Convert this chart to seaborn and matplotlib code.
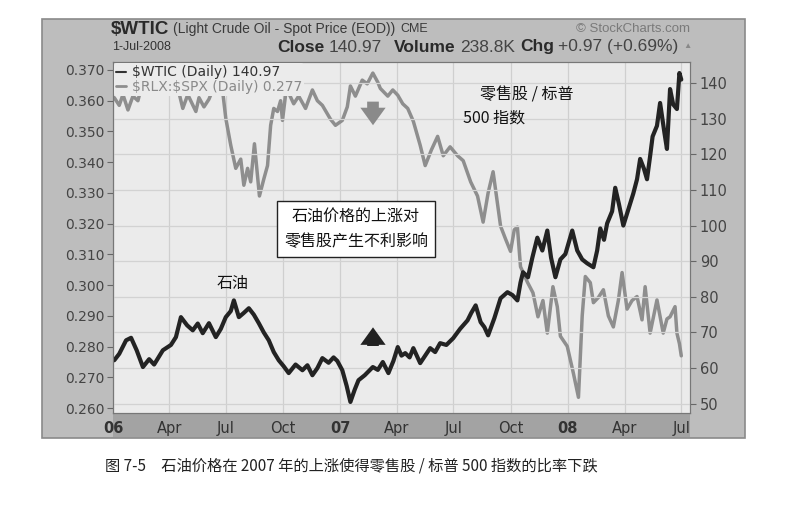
import matplotlib
matplotlib.use("Agg")
import matplotlib.pyplot as plt
from matplotlib.lines import Line2D
from matplotlib.patches import Rectangle
import pandas as pd
import seaborn as sns

# day offsets from 2006-01-01 and values
oil_days = [2, 10, 21, 29, 38, 48, 58, 66, 80, 93, 101, 109, 119, 128, 136, 144, 154, 165, 173, 181,
            189, 194, 202, 210, 218, 226, 234, 242, 250, 258, 266, 274, 282, 293, 304, 312, 320, 328,
            336, 346, 354, 360, 368, 375, 381, 388, 394, 404, 417, 425, 433, 442, 450, 457, 463, 469,
            476, 482, 493, 501, 509, 517, 525, 535, 546, 557, 569, 575, 582, 590, 596, 602, 612, 622,
            633, 641, 649, 654, 658, 666, 673, 681, 689, 697, 703, 710, 718, 726, 737, 745, 753, 761,
            771, 777, 782, 788, 793, 801, 806, 812, 819, 827, 835, 841, 846, 852, 857, 862, 866, 873,
            878, 885, 889, 894, 899, 905, 909, 912]
oil_price = [62.2, 64.0, 67.8, 68.5, 65.0, 60.3, 62.5, 61.0, 65.0, 66.5, 68.7, 74.3, 72.0, 70.6, 72.5,
             69.8, 72.6, 68.7, 71.0, 74.3, 76.0, 79.0, 74.3, 75.5, 76.8, 75.0, 72.6, 70.0, 67.8, 64.5,
             62.2, 60.5, 58.6, 61.0, 59.4, 60.8, 58.0, 60.0, 62.8, 61.5, 63.0, 62.0, 59.4, 55.0, 50.5,
             54.0, 56.6, 58.0, 60.3, 59.5, 61.7, 58.6, 62.0, 65.9, 63.5, 64.2, 63.0, 65.6, 61.4, 63.5,
             65.6, 64.5, 67.0, 66.5, 68.4, 71.0, 73.4, 75.5, 77.6, 72.9, 71.5, 69.2, 74.0, 79.6, 81.3,
             80.5, 79.0, 84.0, 86.9, 85.5, 91.0, 96.6, 93.0, 98.6, 91.0, 85.5, 90.5, 92.0, 98.6, 93.0,
             90.5, 89.4, 88.3, 93.0, 99.2, 96.0, 100.6, 104.0, 110.6, 106.0, 100.0, 104.5, 109.0, 113.0,
             118.7, 116.0, 113.0, 119.5, 125.0, 128.0, 134.4, 126.0, 121.5, 138.3, 134.0, 132.7, 142.8,
             140.97]

ratio_days = [2, 10, 16, 24, 32, 40, 48, 61, 77, 93, 106, 112, 120, 133, 138, 146, 154, 165, 176, 181,
              189, 197, 205, 210, 216, 221, 227, 235, 242, 248, 253, 258, 264, 269, 272, 277, 282, 290,
              298, 309, 320, 328, 336, 349, 357, 368, 376, 381, 389, 400, 408, 417, 425, 429, 441, 449,
              457, 465, 473, 482, 493, 501, 511, 521, 530, 541, 553, 562, 574, 585, 594, 602, 610, 622,
              630, 638, 644, 649, 654, 665, 674, 682, 690, 697, 706, 713, 718, 729, 739, 747, 753, 758,
              766, 771, 779, 787, 795, 803, 811, 817, 825, 833, 841, 849, 854, 862, 873, 883, 889, 894,
              902, 905, 909, 912]
ratio_val = [0.361, 0.3585, 0.362, 0.357, 0.3615, 0.360, 0.3665, 0.367, 0.366, 0.368, 0.3625, 0.3575,
             0.362, 0.3565, 0.361, 0.358, 0.3605, 0.366, 0.363, 0.3543, 0.3455, 0.338, 0.341, 0.3325,
             0.338, 0.3336, 0.346, 0.329, 0.3345, 0.3389, 0.352, 0.3575, 0.3565, 0.360, 0.3536, 0.362,
             0.3625, 0.359, 0.3615, 0.3575, 0.3635, 0.360, 0.3585, 0.354, 0.352, 0.3536, 0.358, 0.3648,
             0.3615, 0.3667, 0.3655, 0.369, 0.366, 0.364, 0.3615, 0.3635, 0.3618, 0.359, 0.3575, 0.3533,
             0.3455, 0.3389, 0.344, 0.3484, 0.3421, 0.345, 0.3421, 0.3405, 0.3336, 0.329, 0.3205, 0.330,
             0.3369, 0.3192, 0.315, 0.311, 0.318, 0.3189, 0.306, 0.301, 0.2975, 0.2897, 0.295, 0.2844,
             0.2995, 0.293, 0.2834, 0.2801, 0.2712, 0.2635, 0.290, 0.3028, 0.3008, 0.2943, 0.296, 0.2985,
             0.290, 0.2864, 0.295, 0.3041, 0.2922, 0.295, 0.2963, 0.2887, 0.2995, 0.2844, 0.2952, 0.2844,
             0.289, 0.2897, 0.293, 0.2844, 0.281, 0.277]

left_ticks = [0.260, 0.270, 0.280, 0.290, 0.300, 0.310, 0.320, 0.330, 0.340, 0.350, 0.360, 0.370]
right_ticks = [50, 60, 70, 80, 90, 100, 110, 120, 130, 140]
month_ticks = ["2006-01-01", "2006-04-01", "2006-07-01", "2006-10-01", "2007-01-01", "2007-04-01",
               "2007-07-01", "2007-10-01", "2008-01-01", "2008-04-01", "2008-07-01"]
month_labels = ["06", "Apr", "Jul", "Oct", "07", "Apr", "Jul", "Oct", "08", "Apr", "Jul"]

start = pd.Timestamp("2006-01-01")
oil = pd.DataFrame({"date": start + pd.to_timedelta(oil_days, unit="D"), "price": oil_price})
ratio = pd.DataFrame({"date": start + pd.to_timedelta(ratio_days, unit="D"), "ratio": ratio_val})

sns.set_style("white")
plt.rcParams["font.family"] = ["DejaVu Sans", "Noto Sans CJK SC"]
cjk = ["Noto Sans CJK SC", "DejaVu Sans"]

W, H = 804, 507
fig = plt.figure(figsize=(W / 100, H / 100), dpi=100)
fig.patch.set_facecolor("white")

def fx(px):
    return px / W

def fy(py):
    return 1 - py / H

# chart frame
fig.patches.append(Rectangle((fx(42), fy(438)), fx(745) - fx(42), fy(19) - fy(438),
                             transform=fig.transFigure, facecolor="#bdbdbd", edgecolor="#8a8a8a",
                             lw=1.2, zorder=-2))
fig.patches.append(Rectangle((fx(113), fy(437)), fx(690) - fx(113), fy(413) - fy(437),
                             transform=fig.transFigure, facecolor="#a3a3a3", edgecolor="none", zorder=-1))

ax = fig.add_axes([fx(113), fy(413), fx(690) - fx(113), fy(62) - fy(413)])
ax.set_facecolor("#ebebeb")
sns.lineplot(data=ratio, x="date", y="ratio", ax=ax, color="#8e8e8e", lw=2.5)
ax.set_ylim(0.2584, 0.3726)
ax.set_xlim(start + pd.Timedelta(days=1), start + pd.Timedelta(days=926))
ax.set_yticks(left_ticks)
ax.set_yticklabels([f"{v:.3f}" for v in left_ticks])
ax.set_xticks(pd.to_datetime(month_ticks))
ax.set_xticklabels(month_labels)
for lab in ax.get_xticklabels():
    if lab.get_text() in ("06", "07", "08"):
        lab.set_fontweight("bold")
ax.tick_params(axis="y", length=4, color="#666", labelcolor="#444", labelsize=10, pad=2)
ax.tick_params(axis="x", length=0, labelcolor="#333", labelsize=10.5, pad=6)
ax.grid(axis="x", color="#cfcfcf", lw=0.9)
ax.set_xlabel("")
ax.set_ylabel("")
for s in ax.spines.values():
    s.set_color("#777")

ax2 = ax.twinx()
sns.lineplot(data=oil, x="date", y="price", ax=ax2, color="#232323", lw=3.0)
ax2.set_ylim(47.4, 145.9)
ax2.set_yticks(right_ticks)
ax2.tick_params(axis="y", length=4, color="#666", labelcolor="#444", labelsize=10.5, pad=3)
ax2.grid(axis="y", color="#d2d2d2", lw=0.9)
ax2.set_axisbelow(True)
ax2.set_ylabel("")
for s in ax2.spines.values():
    s.set_color("#777")

handles = [Line2D([], [], color="#333", lw=1.5), Line2D([], [], color="#8e8e8e", lw=2)]
leg = ax2.legend(handles, [r"\$WTIC (Daily) 140.97", r"\$RLX:\$SPX (Daily) 0.277"], loc="upper left",
                 bbox_to_anchor=(0, 1), frameon=True, facecolor="#ebebeb", edgecolor="none",
                 framealpha=1, fontsize=10, handlelength=0.7, handletextpad=0.4, borderpad=0.15,
                 labelspacing=0.05, borderaxespad=0.1)
leg.get_texts()[0].set_color("#333")
leg.get_texts()[1].set_color("#8a8a8a")

# annotations
ax2.text(0.421, 0.524, "石油价格的上涨对\n零售股产生不利影响", transform=ax2.transAxes, family=cjk,
         fontsize=11.5, ha="center", va="center", linespacing=1.6, color="#111",
         bbox=dict(boxstyle="square,pad=0.45", facecolor="white", edgecolor="#222", lw=1))
ax2.text(0.208, 0.370, "石油", transform=ax2.transAxes, family=cjk, fontsize=11.5,
         ha="center", va="center", color="#111")
ax2.text(0.636, 0.906, "零售股 / 标普", transform=ax2.transAxes, family=cjk, fontsize=11.5,
         ha="left", va="center", color="#111")
ax2.text(0.607, 0.840, "500 指数", transform=ax2.transAxes, family=cjk, fontsize=11.5,
         ha="left", va="center", color="#111")
ax2.annotate("", xy=(0.4506, 0.812), xytext=(0.4506, 0.895), xycoords="axes fraction",
             arrowprops=dict(arrowstyle="simple,head_width=1.3,head_length=0.9,tail_width=0.6",
                             mutation_scale=14, color="#8a8a8a", lw=0))
ax2.annotate("", xy=(0.4506, 0.252), xytext=(0.4506, 0.183), xycoords="axes fraction",
             arrowprops=dict(arrowstyle="simple,head_width=1.3,head_length=0.9,tail_width=0.6",
                             mutation_scale=14, color="#222", lw=0))

# header rows
renderer = fig.canvas.get_renderer()

def put_row(pieces, x0, y):
    texts = []
    x = x0
    for s, size, weight, color, gap in pieces:
        t = fig.text(fx(x), fy(y), s, fontsize=size, fontweight=weight, color=color,
                     va="center", ha="left", family="Liberation Sans")
        texts.append(t)
        x = t.get_window_extent(renderer).x1 + gap
    return texts

put_row([("$WTIC", 13.5, "bold", "#2a2a2a", 4),
         ("(Light Crude Oil - Spot Price (EOD))", 10, "normal", "#3a3a3a", 5),
         ("CME", 9, "normal", "#3a3a3a", 0)], 111, 29)
fig.text(fx(690), fy(29), "© StockCharts.com", fontsize=9.5, color="#7a7a7a", ha="right",
         va="center", family="Liberation Sans")
fig.text(fx(112), fy(47), "1-Jul-2008", fontsize=9, color="#333", va="center", family="Liberation Sans")
row = put_row([("Close", 12.5, "bold", "#2a2a2a", 4), ("140.97", 12.5, "normal", "#444", 12),
               ("Volume", 12.5, "bold", "#2a2a2a", 4), ("238.8K", 12.5, "normal", "#444", 6),
               ("Chg", 12.5, "bold", "#2a2a2a", 4), ("+0.97 (+0.69%)", 12.5, "normal", "#444", 5),
               ("▲", 6, "normal", "#888", 0)], 0, 47)
end = row[-1].get_window_extent(renderer).x1
for t in row:
    px, py = t.get_position()
    t.set_position((px + fx(692 - end), py))

fig.text(fx(105), fy(466), "图 7-5　石油价格在 2007 年的上涨使得零售股 / 标普 500 指数的比率下跌",
         family=cjk, fontsize=11, color="#222", ha="left", va="center")

fig.savefig("out.png", dpi=100)
